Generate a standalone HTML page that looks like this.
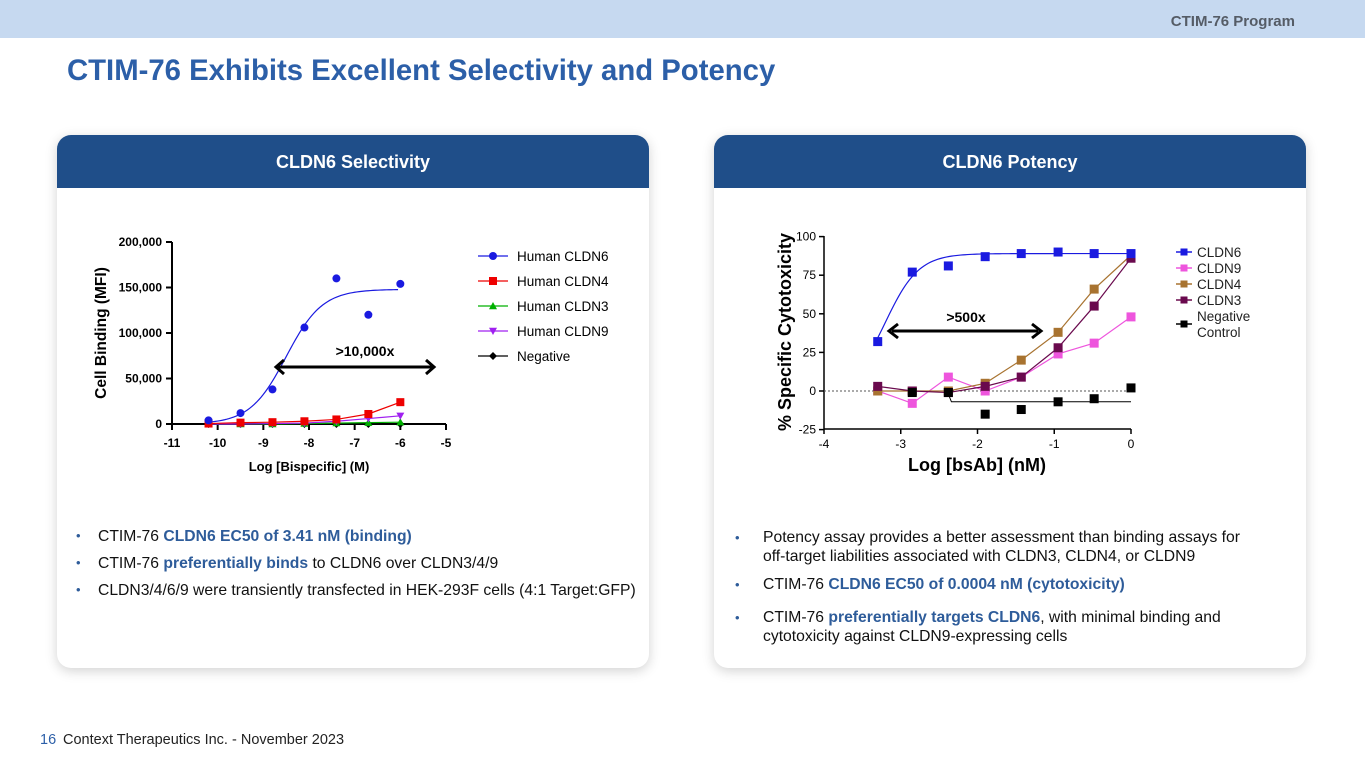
<!DOCTYPE html>
<html><head><meta charset="utf-8">
<style>
*{margin:0;padding:0;box-sizing:border-box}
body{width:1365px;height:768px;position:relative;overflow:hidden;background:#fff;font-family:"Liberation Sans",Arial,sans-serif}
.abs{position:absolute}
.card{position:absolute;top:135px;width:592px;height:533px;background:#fff;border-radius:14px;box-shadow:0 3px 12px rgba(0,0,0,0.18);overflow:hidden}
.card .hd{height:53px;background:#1f4e89;color:#fff;font-weight:bold;font-size:18px;text-align:center;line-height:55px}
.bl{position:absolute;font-size:15.7px;color:#111;line-height:19px}
.bl b{color:#2e5c9a}
.dot{position:absolute;color:#2e5c9a;font-size:13px}
</style></head><body>
<div class="abs" style="left:0;top:0;width:1365px;height:38px;background:#c6d9f0"></div>
<div class="abs" style="right:70px;top:13px;font-size:15px;font-weight:bold;color:#555c66">CTIM-76 Program</div>
<div class="abs" style="left:67px;top:54px;font-size:29.3px;font-weight:bold;color:#2c5fa8">CTIM-76 Exhibits Excellent Selectivity and Potency</div>

<div class="card" style="left:57px"><div class="hd">CLDN6 Selectivity</div></div>
<div class="card" style="left:714px"><div class="hd">CLDN6 Potency</div></div>

<div class="dot" style="left:76px;top:528px">•</div>
<div class="bl" style="left:98px;top:527px">CTIM-76 <b>CLDN6 EC50 of 3.41 nM (binding)</b></div>
<div class="dot" style="left:76px;top:555px">•</div>
<div class="bl" style="left:98px;top:554px">CTIM-76 <b>preferentially binds</b> to CLDN6 over CLDN3/4/9</div>
<div class="dot" style="left:76px;top:582px">•</div>
<div class="bl" style="left:98px;top:581px">CLDN3/4/6/9 were transiently transfected in HEK-293F cells (4:1 Target:GFP)</div>

<div class="dot" style="left:735px;top:530px">•</div>
<div class="bl" style="left:763px;top:528px">Potency assay provides a better assessment than binding assays for<br>off-target liabilities associated with CLDN3, CLDN4, or CLDN9</div>
<div class="dot" style="left:735px;top:577px">•</div>
<div class="bl" style="left:763px;top:575px">CTIM-76 <b>CLDN6 EC50 of 0.0004 nM (cytotoxicity)</b></div>
<div class="dot" style="left:735px;top:610px">•</div>
<div class="bl" style="left:763px;top:608px">CTIM-76 <b>preferentially targets CLDN6</b>, with minimal binding and<br>cytotoxicity against CLDN9-expressing cells</div>

<div class="abs" style="left:40px;top:732px;font-size:14.5px;color:#2c5fa8">16</div>
<div class="abs" style="left:63px;top:732px;font-size:14.5px;color:#222">Context Therapeutics Inc. - November 2023</div>

<svg id="ch" class="abs" style="left:0;top:0" width="1365" height="768" font-family="Liberation Sans, Arial, sans-serif"></svg>

<script>
// ---- Left chart data ----
const lx = [-10.2,-9.5,-8.8,-8.1,-7.4,-6.7,-6.0];
const lCLDN6 = [4000,12000,38000,106000,160000,120000,154000];
const lCLDN4 = [500,1500,2000,3000,5000,11000,24000];
const lCLDN3 = [0,0,0,500,1000,1500,2000];
const lCLDN9 = [0,0,500,1000,3000,6000,9000];
const lNeg = [0,0,0,0,0,0,0];
const lXTicks = [-11,-10,-9,-8,-7,-6,-5];
const lYTicks = [0,50000,100000,150000,200000];
const lYLabels = ["0","50,000","100,000","150,000","200,000"];
// ---- Right chart data ----
const rx = [-3.3,-2.85,-2.38,-1.9,-1.43,-0.95,-0.48,0];
const rCLDN6 = [32,77,81,87,89,90,89,89];
const rCLDN9 = [0,-8,9,0,9,24,31,48];
const rCLDN4 = [0,0,0,5,20,38,66,88];
const rCLDN3 = [3,0,-1,3,9,28,55,86];
const rNeg = [0,-1,-1,-15,-12,-7,-5,2];
const rXTicks = [-4,-3,-2,-1,0];
const rYTicks = [-25,0,25,50,75,100];

const S = document.getElementById('ch');
const NS='http://www.w3.org/2000/svg';
function mk(t,a,p){const e=document.createElementNS(NS,t);for(const k in a)e.setAttribute(k,a[k]);(p||S).appendChild(e);return e;}
function tx(x,y,s,a,p){const e=mk('text',Object.assign({x:x,y:y},a),p);e.textContent=s;return e;}

// Left axes
const LX=v=>172+(v+11)*(274/6), LY=v=>424-v*(182/200000);
let g=mk('g',{});


mk('line',{x1:172,y1:242,x2:172,y2:424,stroke:'#000','stroke-width':2},g);
mk('line',{x1:172,y1:424,x2:446,y2:424,stroke:'#000','stroke-width':2},g);
lXTicks.forEach(v=>{mk('line',{x1:LX(v),y1:424,x2:LX(v),y2:430,stroke:'#000','stroke-width':2},g);
 tx(LX(v),447,String(v),{'font-size':12,'font-weight':'bold','text-anchor':'middle'},g);});
lYTicks.forEach((v,i)=>{mk('line',{x1:166,y1:LY(v),x2:172,y2:LY(v),stroke:'#000','stroke-width':2},g);
 tx(162,LY(v)+4,lYLabels[i],{'font-size':12,'font-weight':'bold','text-anchor':'end'},g);});
let t=tx(309,471,'Log [Bispecific] (M)',{'font-size':13,'font-weight':'bold','text-anchor':'middle'});

t=tx(0,0,'Cell Binding (MFI)',{'font-size':15.5,'font-weight':'bold','text-anchor':'middle',transform:'translate(106,333) rotate(-90)'});


function marker(shape,x,y,c,r,p){
 if(shape==='circle') return mk('circle',{cx:x,cy:y,r:r,fill:c},p);
 if(shape==='square') return mk('rect',{x:x-r,y:y-r,width:2*r,height:2*r,fill:c},p);
 if(shape==='up') return mk('polygon',{points:`${x},${y-r} ${x-r},${y+r*0.8} ${x+r},${y+r*0.8}`,fill:c},p);
 if(shape==='down') return mk('polygon',{points:`${x},${y+r} ${x-r},${y-r*0.8} ${x+r},${y-r*0.8}`,fill:c},p);
 if(shape==='diamond') return mk('polygon',{points:`${x},${y-r} ${x-r},${y} ${x},${y+r} ${x+r},${y}`,fill:c},p);
}
let pts=[];for(let v=-10.2;v<=-6.0;v+=0.05){pts.push(LX(v)+','+LY(148000/(1+Math.pow(10,1.1*(-8.5-v)))));}
let c=mk('polyline',{points:pts.join(' '),fill:'none',stroke:'#1a1ae0','stroke-width':1.2});


const lSeries=[[lNeg,'#000','diamond'],[lCLDN3,'#00b000','up'],[lCLDN9,'#a020f0','down'],[lCLDN4,'#ee0000','square'],[lCLDN6,'#1a1ae0','circle']];
lSeries.forEach(([d,col,sh],si)=>{
 const sg=mk('g',{});
 
 
 if(sh!=='circle') mk('polyline',{points:d.map((v,i)=>LX(lx[i])+','+LY(v)).join(' '),fill:'none',stroke:col,'stroke-width':1.2},sg);
 d.forEach((v,i)=>marker(sh,LX(lx[i]),LY(v),col,4,sg));
});
mk('line',{x1:278,y1:367,x2:432,y2:367,stroke:'#000','stroke-width':3});
mk('polyline',{points:'284,360 276,367 284,374',fill:'none',stroke:'#000','stroke-width':3});
mk('polyline',{points:'426,360 434,367 426,374',fill:'none',stroke:'#000','stroke-width':3});
t=tx(365,356,'>10,000x',{'font-size':14,'font-weight':'bold','text-anchor':'middle'});

const lLeg=[['Human CLDN6','#1a1ae0','circle'],['Human CLDN4','#ee0000','square'],['Human CLDN3','#00b000','up'],['Human CLDN9','#a020f0','down'],['Negative','#000','diamond']];
lLeg.forEach(([n,col,sh],i)=>{const y=256+i*25;const lg=mk('g',{});
 
 
 mk('line',{x1:478,y1:y,x2:508,y2:y,stroke:col,'stroke-width':1.2},lg);marker(sh,493,y,col,4,lg);
 tx(517,y+5,n,{'font-size':13.5},lg);});

// Right chart
const RX=v=>824+(v+4)*(307/4), RY=v=>391-v*(38.6/25);
g=mk('g',{});


mk('line',{x1:824,y1:236,x2:824,y2:429,stroke:'#000','stroke-width':1.5},g);
mk('line',{x1:824,y1:429,x2:1131,y2:429,stroke:'#000','stroke-width':1.5},g);
mk('line',{x1:824,y1:391,x2:1131,y2:391,stroke:'#555','stroke-width':1,'stroke-dasharray':'2,2'},g);
rXTicks.forEach(v=>{mk('line',{x1:RX(v),y1:429,x2:RX(v),y2:434,stroke:'#000','stroke-width':1.5},g);
 tx(RX(v),448,String(v),{'font-size':12,'text-anchor':'middle'},g);});
rYTicks.forEach(v=>{mk('line',{x1:819,y1:RY(v),x2:824,y2:RY(v),stroke:'#000','stroke-width':1.5},g);
 tx(816,RY(v)+4,String(v),{'font-size':12,'text-anchor':'end'},g);});
t=tx(977,471,'Log [bsAb] (nM)',{'font-size':18,'font-weight':'bold','text-anchor':'middle'});

t=tx(0,0,'% Specific Cytotoxicity',{'font-size':18,'font-weight':'bold','text-anchor':'middle',transform:'translate(791,332) rotate(-90)'});

pts=[];for(let v=-3.3;v<=0.001;v+=0.03){pts.push(RX(v)+','+RY(89/(1+Math.pow(10,2*(-3.2-v)))));}
c=mk('polyline',{points:pts.join(' '),fill:'none',stroke:'#1a1ae0','stroke-width':1.2});


mk('polyline',{points:`${RX(-2.38)},${RY(-2)} ${RX(-2.34)},${RY(-7)} ${RX(0)},${RY(-7)}`,fill:'none',stroke:'#000','stroke-width':1});
const rSeries=[[rCLDN9,'#ee55dd'],[rCLDN4,'#a87330'],[rCLDN3,'#6a0a4e'],[rNeg,'#000'],[rCLDN6,'#1a1ae0']];
rSeries.forEach(([d,col],si)=>{
 const sg=mk('g',{});
 
 
 if(si<3) mk('polyline',{points:d.map((v,i)=>RX(rx[i])+','+RY(v)).join(' '),fill:'none',stroke:col,'stroke-width':1.2},sg);
 d.forEach((v,i)=>{if(si===3&&i===0)return;marker('square',RX(rx[i]),RY(v),col,4.5,sg);});
});
mk('line',{x1:892,y1:331,x2:1038,y2:331,stroke:'#000','stroke-width':3});
mk('polyline',{points:'898,324 889,331 898,338',fill:'none',stroke:'#000','stroke-width':3});
mk('polyline',{points:'1032,324 1041,331 1032,338',fill:'none',stroke:'#000','stroke-width':3});
t=tx(966,322,'>500x',{'font-size':14,'font-weight':'bold','text-anchor':'middle'});

const rLeg=[['CLDN6','#1a1ae0'],['CLDN9','#ee55dd'],['CLDN4','#a87330'],['CLDN3','#6a0a4e']];
rLeg.forEach(([n,col],i)=>{const y=252+i*16;const lg=mk('g',{});
 
 
 mk('line',{x1:1176,y1:y,x2:1192,y2:y,stroke:col,'stroke-width':1.5},lg);marker('square',1184,y,col,3.5,lg);
 tx(1197,y+5,n,{'font-size':13.5,fill:'#222'},lg);});
const ng=mk('g',{});


mk('line',{x1:1176,y1:324,x2:1192,y2:324,stroke:'#000','stroke-width':1.5},ng);marker('square',1184,324,'#000',3.5,ng);
tx(1197,321,'Negative',{'font-size':13.5,fill:'#222'},ng);tx(1197,337,'Control',{'font-size':13.5,fill:'#222'},ng);
</script>
</body></html>
